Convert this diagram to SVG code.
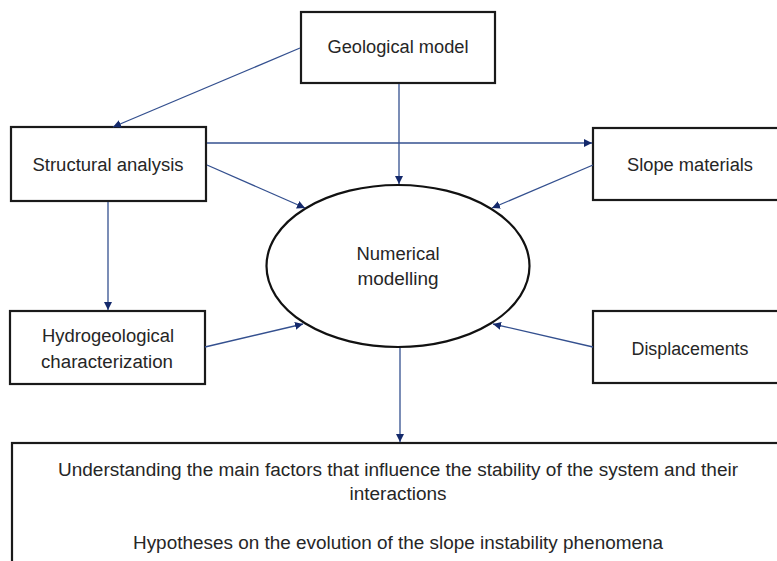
<svg xmlns="http://www.w3.org/2000/svg" width="777" height="561" viewBox="0 0 777 561">
<style>
.box{fill:#fff;stroke:#1a1a1a;stroke-width:2.2}
.t{font-family:"Liberation Sans",Arial,sans-serif;font-size:18px;fill:#262626;text-anchor:middle;dominant-baseline:central}
.c{fill:none;stroke:#34508f;stroke-width:1.3;marker-end:url(#ah)}
</style>
<defs>
<marker id="ah" viewBox="0 0 10 10" refX="10" refY="5" markerWidth="8" markerHeight="8" markerUnits="userSpaceOnUse" orient="auto">
<path d="M0,0 L10,5 L0,10 z" fill="#14296b"/>
</marker>
</defs>
<rect width="777" height="561" fill="#fff"/>
<g id="geological">
<rect class="box" x="301" y="12" width="194" height="71"/>
<text class="t" x="398" y="47" textLength="141" lengthAdjust="spacingAndGlyphs">Geological model</text>
</g>
<g id="structural">
<rect class="box" x="11" y="127" width="195" height="74"/>
<text class="t" x="108" y="165" textLength="151" lengthAdjust="spacingAndGlyphs">Structural analysis</text>
</g>
<g id="slope">
<rect class="box" x="593" y="128" width="200" height="72"/>
<text class="t" x="690" y="165" textLength="126" lengthAdjust="spacingAndGlyphs">Slope materials</text>
</g>
<g id="hydro">
<rect class="box" x="10" y="311" width="195" height="73"/>
<text class="t" x="108" y="336" textLength="132" lengthAdjust="spacingAndGlyphs">Hydrogeological</text>
<text class="t" x="107" y="362" textLength="132" lengthAdjust="spacingAndGlyphs">characterization</text>
</g>
<g id="displacements">
<rect class="box" x="593" y="311" width="200" height="72"/>
<text class="t" x="690" y="349" textLength="117" lengthAdjust="spacingAndGlyphs">Displacements</text>
</g>
<g id="numerical">
<ellipse cx="398" cy="266" rx="131.5" ry="81" fill="#fff" stroke="#111" stroke-width="2.2"/>
<text class="t" x="398" y="254" textLength="83" lengthAdjust="spacingAndGlyphs">Numerical</text>
<text class="t" x="398" y="279" textLength="81" lengthAdjust="spacingAndGlyphs">modelling</text>
</g>
<g id="outcome">
<rect class="box" x="12" y="443" width="790" height="140"/>
<text class="t" x="398" y="470" textLength="680" lengthAdjust="spacingAndGlyphs">Understanding the main factors that influence the stability of the system and their</text>
<text class="t" x="398" y="494" textLength="97" lengthAdjust="spacingAndGlyphs">interactions</text>
<text class="t" x="398" y="543" textLength="530" lengthAdjust="spacingAndGlyphs">Hypotheses on the evolution of the slope instability phenomena</text>
</g>
<g id="connectors">
<path class="c" d="M300,48 L113,127"/>
<path class="c" d="M399,84 L399,184"/>
<path class="c" d="M207,143 L592,143"/>
<path class="c" d="M207,165 L305,208"/>
<path class="c" d="M593,165 L492,208"/>
<path class="c" d="M108,202 L108,310"/>
<path class="c" d="M205,347 L303,324"/>
<path class="c" d="M593,347 L493,324"/>
<path class="c" d="M400,348 L400,442"/>
</g>
</svg>
